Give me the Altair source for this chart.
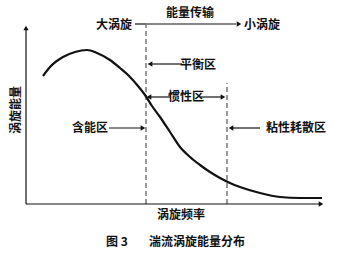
import altair as alt
import pandas as pd

# Energy spectrum curve (frequency, energy) in arbitrary units, origin at axes corner
freq = [17, 24, 37, 49, 61, 71, 84, 94, 104, 112, 119, 126, 134, 144, 154, 164, 174, 184, 194, 204, 214, 234, 254, 274, 296]
energy = [128, 137, 147, 152, 154, 151, 144, 136, 127, 118, 109, 98, 87, 72, 57, 47, 39, 32, 26, 21, 17, 11, 7, 6, 6]

# region boundaries (dashed)
bound_f = [120, 201]
bound_top = [179, 121]

# label texts and anchors
labels = ["能量传输", "大涡旋", "小涡旋", "平衡区", "惯性区", "含能区", "粘性耗散区", "涡旋频率", "图 3", "湍流涡旋能量分布"]
label_f = [164, 88, 236, 172, 160, 64, 270, 155, 91, 171]
label_e = [191, 179, 179, 139, 107, 76, 76, -11, -38, -38]

# leader lines (f1, f2, e)
lead_f1 = [109, 120, 124, 123, 174, 83, 206, 0, 0]
lead_f2 = [120, 210, 156, 144, 196, 116, 234, 294, 0]
lead_e1 = [180, 180, 140, 107, 107, 76, 76, 0, 0]
lead_e2 = [180, 180, 140, 107, 107, 76, 76, 0, 176]

# arrowheads
head_f = [213, 124, 123, 197, 117, 205, 295, 0]
head_e = [180, 140, 107, 107, 76, 76, 0, 176]
head_shape = ["triangle-right", "triangle-left", "triangle-left", "triangle-right",
              "triangle-right", "triangle-left", "triangle-right", "triangle-up"]

W, H = 340, 256
xs = alt.Scale(domain=[-26, 314])
ys = alt.Scale(domain=[-52, 204])
FONT = "Noto Sans CJK SC"
INK = "#111111"

curve_df = pd.DataFrame({"f": freq, "e": energy})
curve = alt.Chart(curve_df).mark_line(color=INK, strokeWidth=2.2, interpolate="monotone").encode(
    x=alt.X("f:Q", scale=xs, axis=None),
    y=alt.Y("e:Q", scale=ys, axis=None),
)

bound_df = pd.DataFrame({"f": bound_f, "top": bound_top, "bot": [0, 0]})
bounds = alt.Chart(bound_df).mark_rule(color="#333333", strokeWidth=1, strokeDash=[5, 3]).encode(
    x=alt.X("f:Q", scale=xs, axis=None),
    y=alt.Y("bot:Q", scale=ys, axis=None),
    y2="top:Q",
)

lead_df = pd.DataFrame({"f1": lead_f1, "f2": lead_f2, "e1": lead_e1, "e2": lead_e2})
leads = alt.Chart(lead_df).mark_rule(color=INK, strokeWidth=1.2).encode(
    x=alt.X("f1:Q", scale=xs, axis=None),
    x2="f2:Q",
    y=alt.Y("e1:Q", scale=ys, axis=None),
    y2="e2:Q",
)

head_df = pd.DataFrame({"f": head_f, "e": head_e, "s": head_shape})
heads = alt.Chart(head_df).mark_point(filled=True, color=INK, opacity=1, size=28).encode(
    x=alt.X("f:Q", scale=xs, axis=None),
    y=alt.Y("e:Q", scale=ys, axis=None),
    shape=alt.Shape("s:N", scale=None),
)

text_df = pd.DataFrame({"t": labels, "f": label_f, "e": label_e})
texts = alt.Chart(text_df).mark_text(font=FONT, fontSize=12, color=INK, fontWeight="bold").encode(
    x=alt.X("f:Q", scale=xs, axis=None),
    y=alt.Y("e:Q", scale=ys, axis=None),
    text="t:N",
)

ytitle_df = pd.DataFrame({"t": ["涡旋能量"], "f": [-10], "e": [94]})
ytitle = alt.Chart(ytitle_df).mark_text(font=FONT, fontSize=12, color=INK, fontWeight="bold", angle=270).encode(
    x=alt.X("f:Q", scale=xs, axis=None),
    y=alt.Y("e:Q", scale=ys, axis=None),
    text="t:N",
)

chart = alt.layer(bounds, leads, heads, curve, texts, ytitle).properties(
    width=W, height=H, background="white", padding=0,
    autosize=alt.AutoSizeParams(type="none"),
).configure_view(stroke=None)

chart.save("out.html", embed_options={"renderer": "svg", "actions": False})
